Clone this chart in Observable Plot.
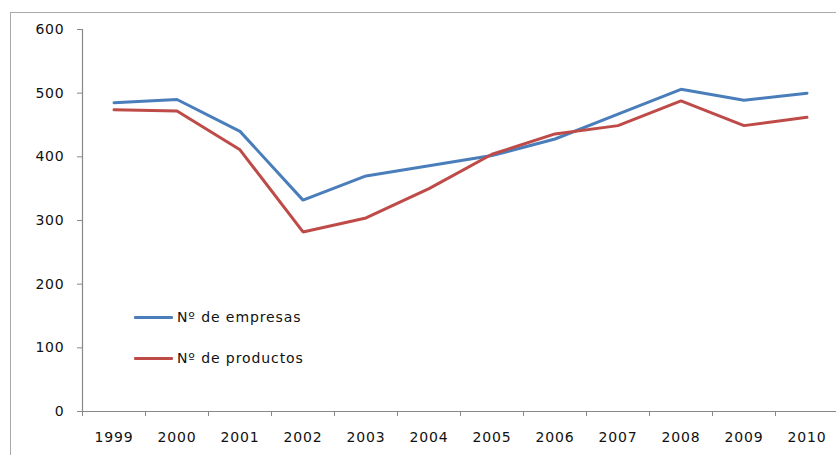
<!DOCTYPE html>
<html>
<head>
<meta charset="utf-8">
<script src="https://cdn.jsdelivr.net/npm/d3@7"></script>
<script src="https://cdn.jsdelivr.net/npm/@observablehq/plot@0.6"></script>
<style>
  html, body { margin: 0; padding: 0; background: #fff; }
  #wrap { position: relative; width: 836px; height: 455px; overflow: hidden; }
  #frame { position: absolute; left: 10px; top: 12px; width: 900px; height: 500px;
           border-left: 1.5px solid #aaa; border-top: 1.5px solid #aaa; }
  #chart { position: absolute; left: 0; top: 0; }
  .legend { position: absolute; font-family: "DejaVu Sans", sans-serif; font-size: 14px;
            letter-spacing: 0.9px; color: #111; display: flex; align-items: center; }
  .legend .sw { display: inline-block; width: 39px; height: 3px; margin-right: 4px; border-radius: 1px; }
</style>
</head>
<body>
<div id="wrap">
  <div id="frame"></div>
  <div id="chart"></div>
  <div class="legend" id="lg1" style="left:134px; top:309px;"><span class="sw" style="background:#4A7EBB"></span>Nº de empresas</div>
  <div class="legend" id="lg2" style="left:134px; top:350px;"><span class="sw" style="background:#BE4B48"></span>Nº de productos</div>
</div>
<script>
const years = [1999, 2000, 2001, 2002, 2003, 2004, 2005, 2006, 2007, 2008, 2009, 2010];
const empresas = [485, 490, 440, 332, 370, 386, 402, 428, 467, 506, 489, 500];
const productos = [474, 472, 411, 282, 304, 350, 404, 436, 449, 488, 449, 462];
const yTicks = [0, 100, 200, 300, 400, 500, 600];
const seriesNames = ["Nº de empresas", "Nº de productos"];
const seriesColors = ["#4A7EBB", "#BE4B48"];

const data = [];
years.forEach((y, i) => {
  data.push({year: y, value: empresas[i], serie: seriesNames[0]});
  data.push({year: y, value: productos[i], serie: seriesNames[1]});
});
const boundaries = years.map(y => y - 0.5).concat([years[years.length - 1] + 0.5]);

const chart = Plot.plot({
  width: 836,
  height: 455,
  marginLeft: 82,
  marginRight: 0,
  marginTop: 29,
  marginBottom: 44,
  x: {type: "linear", domain: [boundaries[0], boundaries[boundaries.length - 1]], range: [82, 838]},
  y: {domain: [0, 600], range: [411, 29]},
  color: {domain: seriesNames, range: seriesColors},
  style: {fontFamily: "DejaVu Sans, sans-serif", fontSize: "14px", color: "#111", background: "transparent", letterSpacing: "0.8px"},
  marks: [
    Plot.ruleX([boundaries[0]], {stroke: "#888", strokeWidth: 1.2}),
    Plot.ruleY([0], {stroke: "#888", strokeWidth: 1.2}),
    Plot.axisY({ticks: yTicks, tickSize: 5, tickPadding: 13, stroke: "#888", label: null, fill: "#111"}),
    Plot.axisX({ticks: boundaries, tickSize: 5, tickFormat: () => "", stroke: "#888", label: null}),
    Plot.axisX({ticks: years, tickSize: 0, tickPadding: 21, tickFormat: d => String(d), label: null, fill: "#111"}),
    Plot.line(data, {x: "year", y: "value", z: "serie", stroke: "serie", strokeWidth: 3, strokeLinejoin: "miter", strokeLinecap: "round"})
  ]
});
document.getElementById("chart").appendChild(chart);
</script>
</body>
</html>
